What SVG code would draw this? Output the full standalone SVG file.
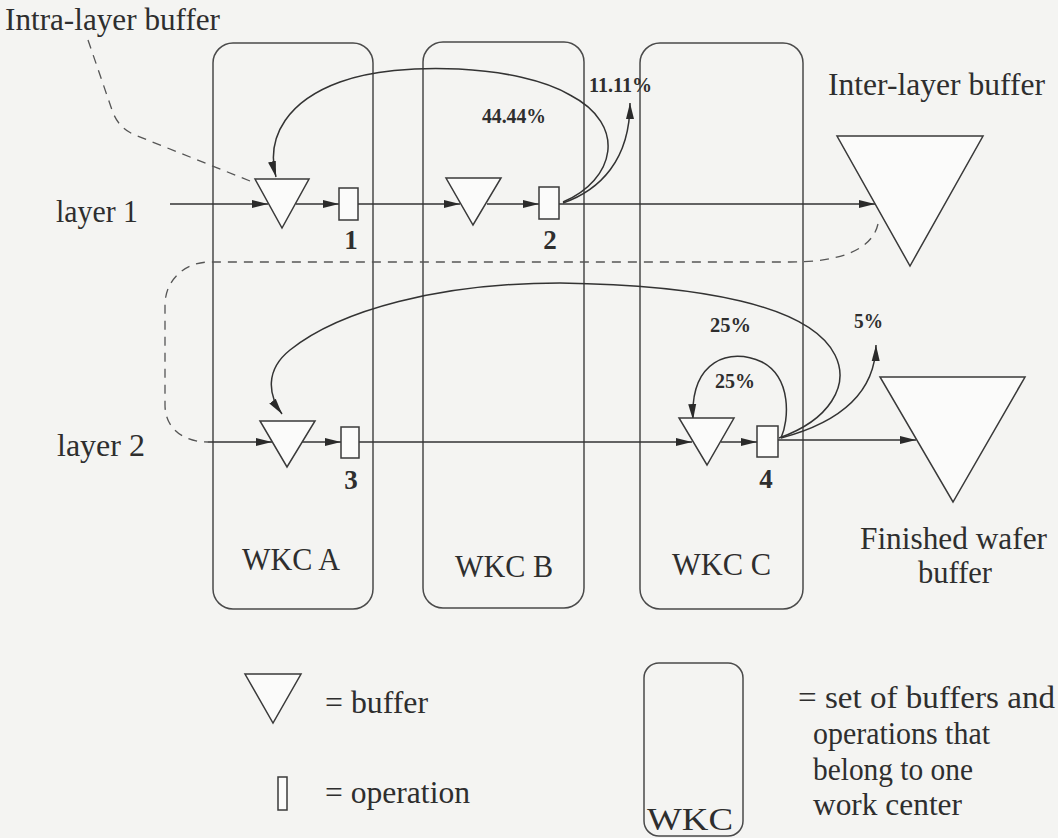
<svg xmlns="http://www.w3.org/2000/svg" width="1058" height="838" viewBox="0 0 1058 838">
<style>
.box{fill:none;stroke:#4a4a4a;stroke-width:1.5}
.shape{fill:#fbfbfa;stroke:#3a3a3a;stroke-width:1.5}
.con{fill:none;stroke:#333;stroke-width:1.5}
.arr{marker-end:url(#ah)}
.dash{fill:none;stroke:#555;stroke-width:1.3;stroke-dasharray:9 7}
.t{font-family:"Liberation Serif","Times New Roman",serif;fill:#2e2e2e;font-size:31px}
.b{font-family:"Liberation Serif","Times New Roman",serif;fill:#2e2e2e;font-weight:bold;font-size:20px}
.n{font-family:"Liberation Serif","Times New Roman",serif;fill:#2e2e2e;font-weight:bold;font-size:27px;text-anchor:middle}
</style>
<defs>
<marker id="ah" markerUnits="userSpaceOnUse" markerWidth="17" markerHeight="10" refX="16" refY="5" orient="auto">
<path d="M0 1 L16 5 L0 9 Z" fill="#2a2a2a"/>
</marker>
</defs>
<rect x="0" y="0" width="1058" height="838" fill="#f4f4f2"/>

<text class="t" x="5" y="30" textLength="215" lengthAdjust="spacingAndGlyphs">Intra-layer buffer</text>
<text class="t" x="828" y="95" textLength="217" lengthAdjust="spacingAndGlyphs">Inter-layer buffer</text>
<text class="t" x="56" y="222" textLength="82" lengthAdjust="spacingAndGlyphs">layer 1</text>
<text class="t" x="57" y="456" textLength="88" lengthAdjust="spacingAndGlyphs">layer 2</text>

<g id="wkcA"><rect class="box" x="213" y="43" width="160" height="566" rx="20"/><text class="t" x="242" y="570" textLength="98" lengthAdjust="spacingAndGlyphs">WKC A</text></g>
<g id="wkcB"><rect class="box" x="423" y="42" width="161" height="566" rx="20"/><text class="t" x="455" y="577" textLength="98" lengthAdjust="spacingAndGlyphs">WKC B</text></g>
<g id="wkcC"><rect class="box" x="640" y="43" width="163" height="566" rx="20"/><text class="t" x="672" y="575" textLength="99" lengthAdjust="spacingAndGlyphs">WKC C</text></g>

<g id="connectors">
<path class="dash" d="M88 40 L112 110 Q118 128 135 135 L250 181"/>
<path class="dash" d="M878 224 C872 250 840 262 790 262 L210 262 C185 262 165 280 165 305 L165 405 C165 428 183 442 208 442"/>
<path class="con arr" d="M170 204 L268 204"/>
<path class="con arr" d="M296 204 L339 204"/>
<path class="con arr" d="M358 204 L460 204"/>
<path class="con arr" d="M487 204 L539 204"/>
<path class="con arr" d="M559 204 L875 204"/>
<path class="con arr" d="M563 202 C615 180 628 125 570 95 C520 65 400 60 340 82 C290 100 265 135 276 177"/>
<path class="con arr" d="M563 203 C600 190 630 160 630 103"/>
<path class="con arr" d="M208 442 L272 442"/>
<path class="con arr" d="M302 442 L341 442"/>
<path class="con arr" d="M359 442 L692 442"/>
<path class="con arr" d="M721 442 L757 442"/>
<path class="con arr" d="M778 440 L916 440"/>
<path class="con arr" d="M779 438 C830 420 850 385 835 355 C810 305 700 285 560 283 C440 283 340 310 290 350 C265 370 268 395 282 414"/>
<path class="con arr" d="M781 438 C789 420 792 378 762 362 C730 347 690 360 693 420"/>
<path class="con arr" d="M781 438 C830 425 875 400 876 345"/>
</g>

<g id="buffer1"><polygon class="shape" points="255,179 309,179 282,228"/></g>
<g id="op1"><rect class="shape" x="339" y="188" width="19" height="32"/><text class="n" x="351" y="249">1</text></g>
<g id="buffer2"><polygon class="shape" points="446,178 501,178 473,225"/></g>
<g id="op2"><rect class="shape" x="539" y="187" width="20" height="32"/><text class="n" x="550" y="249">2</text></g>
<g id="interBuffer"><polygon class="shape" points="837,136 983,136 910,266"/></g>
<g id="buffer3"><polygon class="shape" points="260,421 315,421 287,467"/></g>
<g id="op3"><rect class="shape" x="341" y="427" width="18" height="31"/><text class="n" x="351" y="489">3</text></g>
<g id="bufferC"><polygon class="shape" points="679,418 734,418 707,465"/></g>
<g id="op4"><rect class="shape" x="757" y="426" width="21" height="31"/><text class="n" x="766" y="488">4</text></g>
<g id="finishedBuffer"><polygon class="shape" points="880,377 1025,377 953,502"/>
<text class="t" x="860" y="549" textLength="187" lengthAdjust="spacingAndGlyphs">Finished wafer</text>
<text class="t" x="918" y="583" textLength="74" lengthAdjust="spacingAndGlyphs">buffer</text></g>

<g id="percentLabels">
<text class="b" x="589" y="92" textLength="63" lengthAdjust="spacingAndGlyphs">11.11%</text>
<text class="b" x="482" y="123" textLength="64" lengthAdjust="spacingAndGlyphs">44.44%</text>
<text class="b" x="710" y="332" textLength="41" lengthAdjust="spacingAndGlyphs">25%</text>
<text class="b" x="715" y="388" textLength="40" lengthAdjust="spacingAndGlyphs">25%</text>
<text class="b" x="854" y="328" textLength="29" lengthAdjust="spacingAndGlyphs">5%</text>
</g>

<g id="legend">
<polygon class="shape" points="245,674 301,674 273,723"/>
<text class="t" x="325" y="713" textLength="103" lengthAdjust="spacingAndGlyphs">= buffer</text>
<rect class="shape" x="278" y="777" width="9" height="33"/>
<text class="t" x="325" y="803" textLength="145" lengthAdjust="spacingAndGlyphs">= operation</text>
<rect class="box" x="644" y="663" width="99" height="173" rx="15"/>
<text class="t" x="647" y="830" textLength="86" lengthAdjust="spacingAndGlyphs">WKC</text>
<text class="t" x="798" y="708" textLength="257" lengthAdjust="spacingAndGlyphs">= set of buffers and</text>
<text class="t" x="813" y="744" textLength="177" lengthAdjust="spacingAndGlyphs">operations that</text>
<text class="t" x="813" y="780" textLength="160" lengthAdjust="spacingAndGlyphs">belong to one</text>
<text class="t" x="813" y="815" textLength="149" lengthAdjust="spacingAndGlyphs">work center</text>
</g>
</svg>
